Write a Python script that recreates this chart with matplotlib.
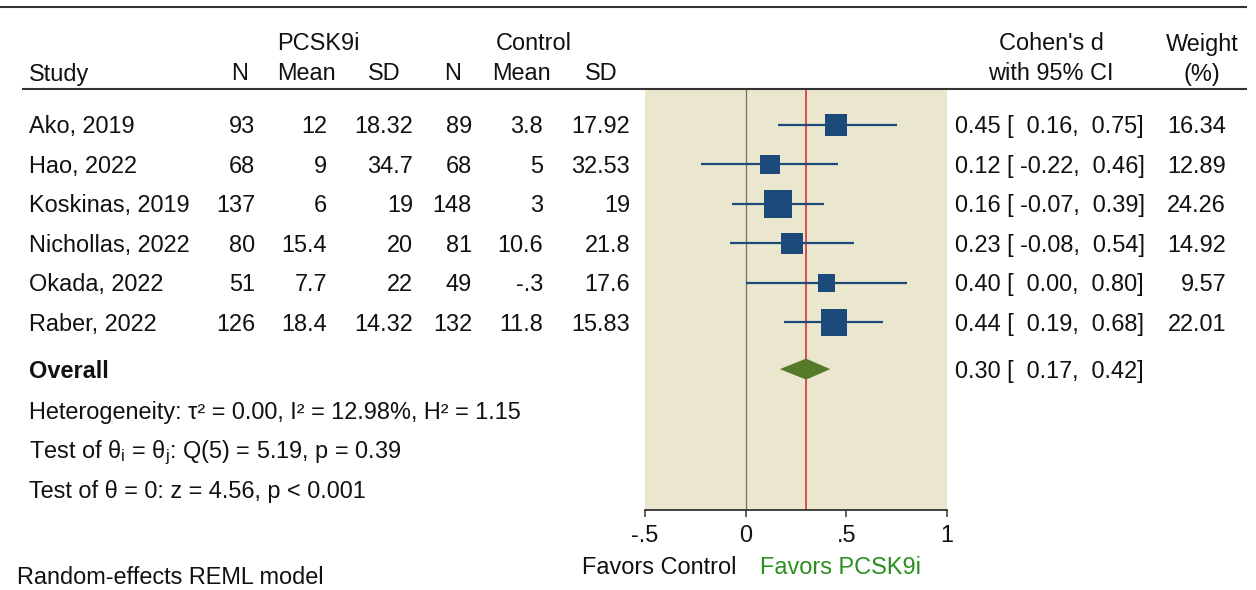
import matplotlib
matplotlib.use("Agg")
import matplotlib.pyplot as plt
import matplotlib.transforms as mtransforms
import numpy as np

plt.rcParams['font.family'] = ['Liberation Sans', 'DejaVu Sans']
plt.rcParams['mathtext.fontset'] = 'custom'
plt.rcParams['mathtext.rm'] = 'Liberation Sans'
plt.rcParams['mathtext.it'] = 'Liberation Sans'

# ---------------- data ----------------
studies = ["Ako, 2019", "Hao, 2022", "Koskinas, 2019", "Nichollas, 2022", "Okada, 2022", "Raber, 2022"]
n_pcsk9 = [93, 68, 137, 80, 51, 126]
mean_pcsk9 = [12, 9, 6, 15.4, 7.7, 18.4]
sd_pcsk9 = [18.32, 34.7, 19, 20, 22, 14.32]
n_ctrl = [89, 68, 148, 81, 49, 132]
mean_ctrl = [3.8, 5, 3, 10.6, -0.3, 11.8]
sd_ctrl = [17.92, 32.53, 19, 21.8, 17.6, 15.83]
cohen_d = [0.45, 0.12, 0.16, 0.23, 0.40, 0.44]
ci_low = [0.16, -0.22, -0.07, -0.08, 0.00, 0.19]
ci_high = [0.75, 0.46, 0.39, 0.54, 0.80, 0.68]
weights = [16.34, 12.89, 24.26, 14.92, 9.57, 22.01]
overall_d = 0.30
overall_low = 0.17
overall_high = 0.42
x_ticks = [-0.5, 0, 0.5, 1]
x_tick_labels = ["-.5", "0", ".5", "1"]
het_text = "Heterogeneity: τ² = 0.00, I² = 12.98%, H² = 1.15"
q_text = r"Test of θ$_{\mathrm{i}}$ = θ$_{\mathrm{j}}$: Q(5) = 5.19, p = 0.39"
z_text = "Test of θ = 0: z = 4.56, p < 0.001"
model_text = "Random-effects REML model"

# ---------------- style ----------------
W, H = 1256, 590
FS = 16.9
TXT = "#111111"
NAVY = "#1b4a7b"
PANEL = "#ebe7cf"
DIAMOND = "#557a2a"
GREEN = "#2a8f1f"
RED = "#d8232a"


def sfmt(v):
    s = f"{v:g}"
    if s.startswith("-0."):
        s = "-" + s[2:]
    elif s.startswith("0."):
        s = s[1:]
    return s


fig = plt.figure(figsize=(W / 100, H / 100), dpi=100)
fig.patch.set_facecolor("white")

top_px, bot_px = 90, 510
r_top = (top_px - 125) / 39.5
r_bot = (bot_px - 125) / 39.5

ax = fig.add_axes([645 / W, (H - bot_px) / H, (947 - 645) / W, (bot_px - top_px) / H])
ax.set_xlim(-0.5, 1.0)
ax.set_ylim(r_bot, r_top)
ax.set_facecolor(PANEL)
for s in ["top", "right", "left"]:
    ax.spines[s].set_visible(False)
ax.spines["bottom"].set_linewidth(1.3)
ax.spines["bottom"].set_color("#333333")
ax.set_yticks([])
ax.set_xticks(x_ticks)
ax.set_xticklabels(x_tick_labels, fontsize=FS, color=TXT)
ax.tick_params(axis="x", length=5, width=1.1, color="#333333", pad=5)

tx = fig.add_axes([0, 0, 1, 1], zorder=5)
tx.set_xlim(0, W)
tx.set_ylim(H, 0)
tx.axis("off")
tx.patch.set_alpha(0)

rows = np.arange(len(studies))
overall_row = 6.18
text_rows = [7.24, 8.23, 9.24]

# reference lines
ax.axvline(0, color="#6f6f6f", lw=0.9, zorder=1)
ax.axvline(overall_d, color=RED, lw=1.1, zorder=1)

# CIs and squares
ax.hlines(rows, ci_low, ci_high, color=NAVY, lw=1.6, zorder=2)
sizes = (5.55 * np.sqrt(np.array(weights)) * 0.72) ** 2
ax.scatter(cohen_d, rows, s=sizes, marker="s", color=NAVY, zorder=3, linewidths=0)

# diamond
hh = 10.5 / 39.5
ax.fill([overall_low, overall_d, overall_high, overall_d],
        [overall_row, overall_row - hh, overall_row, overall_row + hh],
        color=DIAMOND, zorder=3, lw=0)

# text transform: x in figure pixels, y in rows; baseline shifted down half cap height
base_shift = mtransforms.ScaledTranslation(0, -8.5 / 100, fig.dpi_scale_trans)
tr = mtransforms.blended_transform_factory(tx.transData, ax.transData) + base_shift
trh = tx.transData + base_shift


def put(x, r, s, ha="left", **kw):
    tx.text(x, r, s, transform=tr, ha=ha, va="baseline", fontsize=FS,
            color=kw.pop("color", TXT), **kw)


def hput(x, y, s, ha="center", **kw):
    tx.text(x, y, s, transform=trh, ha=ha, va="baseline", fontsize=FS,
            color=kw.pop("color", TXT), **kw)


hput(318, 42, "PCSK9i")
hput(534, 42, "Control")
hput(29, 72, "Study", ha="left")
for xc, lab in zip([240, 306, 384, 453, 521, 601], ["N", "Mean", "SD", "N", "Mean", "SD"]):
    hput(xc, 72, lab)
hput(1051, 42, "Cohen's d")
hput(1051, 72, "with 95% CI")
hput(1202, 42, "Weight")
hput(1202, 72, "(%)")

# rules
tx.plot([0, 1247], [7, 7], color="#333333", lw=1.5, solid_capstyle="butt")
tx.plot([22, 1247], [88.5, 88.5], color="#333333", lw=1.5, solid_capstyle="butt")

# table rows
col_right = [255, 327, 413, 472, 543, 630]
for i, r in enumerate(rows):
    put(29, r, studies[i])
    vals = [str(n_pcsk9[i]), sfmt(mean_pcsk9[i]), sfmt(sd_pcsk9[i]),
            str(n_ctrl[i]), sfmt(mean_ctrl[i]), sfmt(sd_ctrl[i])]
    for xr, v in zip(col_right, vals):
        put(xr, r, v, ha="right")
    put(955, r, f"{cohen_d[i]:.2f} [{ci_low[i]:6.2f}, {ci_high[i]:5.2f}]")
    put(1226, r, f"{weights[i]:.2f}", ha="right")

put(29, overall_row, "Overall", fontweight="bold")
put(955, overall_row, f"{overall_d:.2f} [{overall_low:6.2f}, {overall_high:5.2f}]")
put(29, text_rows[0], het_text)
put(29, text_rows[1], q_text)
put(29, text_rows[2], z_text)

hput(17, 575, model_text, ha="left")
hput(737, 565, "Favors Control", ha="right")
hput(760, 565, "Favors PCSK9i", ha="left", color=GREEN)

fig.savefig("out.png", dpi=100, facecolor="white")
